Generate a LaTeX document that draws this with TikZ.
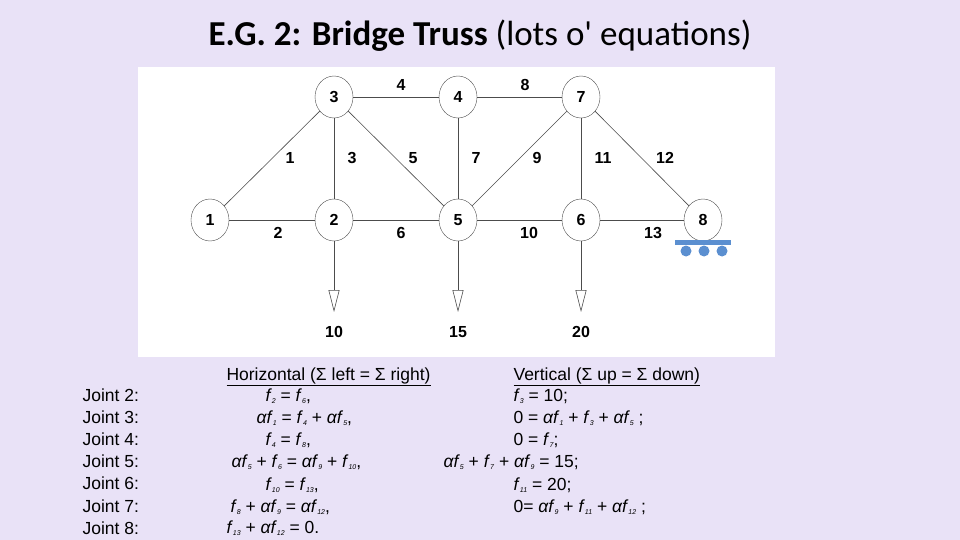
\documentclass[tikz,border=0pt]{standalone}
\usepackage{fontspec}
\setmainfont{Liberation Sans}
\newfontfamily\titlefont{Carlito}
\usetikzlibrary{shapes.geometric,arrows.meta}
\definecolor{bg}{HTML}{E9E2F7}
\definecolor{sup}{HTML}{5B8FD0}
\newcommand{\ff}[1]{\textit{f}\raisebox{-0.3ex}{\fontsize{7}{7}\selectfont\textit{#1}}}
\newcommand{\af}[1]{\textit{αf}\raisebox{-0.3ex}{\fontsize{7}{7}\selectfont\textit{#1}}}
\begin{document}
\begin{tikzpicture}[x=1pt,y=-1pt,
  joint/.style={draw=black!70,ellipse,minimum width=38pt,minimum height=42pt,inner sep=0pt,font=\fontsize{16}{16}\selectfont\bfseries,fill=white},
  mem/.style={draw=black!70,line width=0.6pt},
  lab/.style={font=\fontsize{16}{16}\selectfont\bfseries},
  eq/.style={anchor=base west,font=\fontsize{17.5}{19}\selectfont},
  load/.style={draw=black!70,line width=0.6pt,-{Triangle[open,length=22pt,width=11pt]}}]
\fill[bg] (0,0) rectangle (960,540);
\fill[white] (138,67) rectangle (775,357);
\node[font=\titlefont\fontsize{35}{36}\selectfont] (title) at (480,36) {\textbf{E.G. 2: Bridge Truss} (lots o' equations)};
\node[joint] (n1) at (210,220) {1};
\node[joint] (n2) at (334,220) {2};
\node[joint] (n3) at (334,97) {3};
\node[joint] (n4) at (458,97) {4};
\node[joint] (n5) at (458,220) {5};
\node[joint] (n6) at (581,220) {6};
\node[joint] (n7) at (581,97) {7};
\node[joint] (n8) at (703,220) {8};
\draw[mem] (n1)--(n3); \draw[mem] (n1)--(n2); \draw[mem] (n3)--(n2);
\draw[mem] (n3)--(n4); \draw[mem] (n3)--(n5); \draw[mem] (n2)--(n5);
\draw[mem] (n4)--(n5); \draw[mem] (n4)--(n7); \draw[mem] (n5)--(n7);
\draw[mem] (n5)--(n6); \draw[mem] (n7)--(n6); \draw[mem] (n7)--(n8);
\draw[mem] (n6)--(n8);
\coordinate (l2) at (334,312); \coordinate (l5) at (458,312); \coordinate (l6) at (581,312);
\draw[load] (n2)--(l2); \draw[load] (n5)--(l5); \draw[load] (n6)--(l6);
\node[lab] (f10) at (334,332) {10};
\node[lab] (f15) at (458,332) {15};
\node[lab] (f20) at (581,332) {20};
\node[lab] at (401,85) {4}; \node[lab] at (525,85) {8};
\node[lab] at (290,158) {1}; \node[lab] at (352,158) {3};
\node[lab] at (413,158) {5}; \node[lab] at (476,158) {7};
\node[lab] at (537,158) {9}; \node[lab] at (603,158) {11};
\node[lab] at (665,158) {12};
\node[lab] at (278,233) {2}; \node[lab] at (401,233) {6};
\node[lab] at (529,233) {10}; \node[lab] at (653,233) {13};
\fill[sup] (675,240) rectangle (731,245);
\foreach \x in {686,704,722} \fill[sup] (\x,251) circle (5.5);
\foreach \t [count=\i] in {2,3,4,5,6,7,8}
  \node[eq] at (79,{395+(\i-1)*22.2+6}) {Joint \t:};
\node[eq] at (223,380) {\underline{Horizontal (Σ left = Σ right)}};
\node[eq] at (510,380) {\underline{Vertical (Σ up = Σ down)}};
\node[eq] at (262,401) {\ff{2} = \ff{6},};
\node[eq] at (253,423) {\af{1} = \ff{4} + \af{5},};
\node[eq] at (262,445) {\ff{4} = \ff{8},};
\node[eq] at (228,467) {\af{5} + \ff{6} = \af{9} + \ff{10},};
\node[eq] at (262,490) {\ff{10} = \ff{13},};
\node[eq] at (227,512) {\ff{8} + \af{9} = \af{12},};
\node[eq] at (223,533) {\ff{13} + \af{12} = 0.};
\node[eq] at (510,401) {\ff{3} = 10;};
\node[eq] at (510,423) {0 = \af{1} + \ff{3} + \af{5} ;};
\node[eq] at (510,445) {0 = \ff{7};};
\node[eq] at (440,467) {\af{5} + \ff{7} + \af{9} = 15;};
\node[eq] at (510,490) {\ff{11} = 20;};
\node[eq] at (510,512) {0= \af{9} + \ff{11} + \af{12} ;};
\end{tikzpicture}
\end{document}
